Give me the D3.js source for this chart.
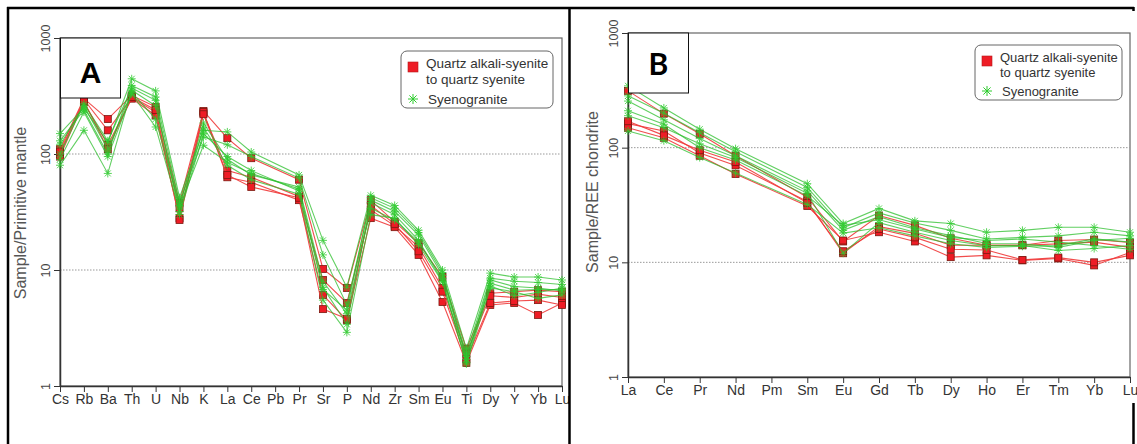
<!DOCTYPE html>
<html>
<head>
<meta charset="utf-8">
<script src="https://cdn.jsdelivr.net/npm/d3@7"></script>
<style>
  body { margin: 0; background: #fff; }
  svg { display: block; font-family: "Liberation Sans", Arial, sans-serif; }
</style>
</head>
<body>
<div id="chart"></div>
<script>
"use strict";

// ---- data: panel A (primitive mantle normalised spider diagram)
var spiderElements = ["Cs", "Rb", "Ba", "Th", "U", "Nb", "K", "La", "Ce", "Pb", "Pr", "Sr", "P", "Nd", "Zr", "Sm", "Eu", "Ti", "Dy", "Y", "Yb", "Lu"];
// null = not analysed (line runs across)
var spiderSyenite = [
  [110, 300, 200, 320, 255, 38, 235, 137, 92, null, 60, 10.2, 7.0, 40, 26, 17, 8.7, 2.1, 6.3, 6.5, 6.7, 6.5],
  [100, 295, 160, 305, 230, 34, 225, 72, 63, null, 43, 8.2, 5.2, 33, 24, 15.8, 7.0, 1.9, 6.0, 5.8, 6.2, 5.8],
  [95, 280, 120, 300, 215, 28, 230, 63, 57, null, 40, 6.1, 3.7, 28, 23.4, 13.5, 5.3, 1.58, 5.0, 5.2, 4.1, 5.2],
  [105, 285, 110, 310, 240, 27, 220, 66, 52, null, 42, 4.6, 3.8, 36, 25, 14.5, 6.5, 1.7, 5.2, 5.4, 5.5, 5.0]
];
var spiderGranite = [
  [150, 250, 125, 445, 350, 42, 160, 155, 104, null, 66, 18, 7.1, 44, 36, 22, 10, 2.1, 9.4, 8.7, 8.7, 8.2],
  [130, 240, 100, 390, 310, 38, 140, 120, 95, null, 62, 13.5, 5.0, 40, 32, 20, 9.0, 1.9, 8.5, 8.0, 7.8, 7.5],
  [80, 160, 68, 355, 260, 35, 119, 85, 68, null, 50, 7.1, 3.4, 38, 30, 18, 8.0, 1.6, 7.7, 6.7, 6.8, 6.8],
  [90, 230, 95, 330, 171, 32, 170, 80, 60, null, 45, 5.5, 2.9, 30, 28, 16.5, 7.9, 1.55, 7.0, 6.5, 5.7, 6.1],
  [120, 260, 110, 340, 200, 36, 185, 90, 66, null, 52, 8.0, 4.2, 34, 27, 17.5, 8.5, 1.8, 7.3, 6.0, 6.4, 7.0],
  [100, 270, 130, 370, 290, 30, 150, 95, 72, null, 48, 6.8, 4.5, 42, 34, 21, 9.5, 1.7, 8.2, 7.2, 7.0, 6.6]
];

// ---- data: panel B (chondrite normalised REE)
var reeElements = ["La", "Ce", "Pr", "Nd", "Pm", "Sm", "Eu", "Gd", "Tb", "Dy", "Ho", "Er", "Tm", "Yb", "Lu"];
var reeSyenite = [
  [313, 198, 132, 85, null, 37, 15.2, 25.6, 21, 16.2, 14.1, 14.1, 15.5, 15.8, 14.9],
  [162, 140, 90, 70, null, 34, 12, 20.5, 17.9, 14.1, 14.1, 14.1, 14.5, 15.0, 13.5],
  [149, 122, 85, 59, null, 31, 15.5, 18.3, 15.2, 11.1, 11.5, 10.4, 10.8, 9.4, 12.2],
  [170, 128, 95, 75, null, 33, 12.5, 19.5, 16.5, 13.0, 12.8, 10.5, 11.0, 10.0, 11.5]
];
var reeGranite = [
  [346, 222, 145, 98, null, 48.5, 21.8, 29.5, 23, 21.8, 18.3, 19, 20.2, 20.2, 18.3],
  [283, 200, 135, 92, null, 45, 20, 27, 22, 19, 16, 16.5, 17, 18.3, 17],
  [255, 175, 120, 85, null, 42, 19, 25, 20, 17.1, 14.6, 14.5, 13.5, 15.5, 16.2],
  [190, 149, 108, 82, null, 40, 12, 22.2, 18.3, 15.5, 14.0, 14.0, 12.7, 13.2, 14.0],
  [140, 115, 82, 60, null, 32, 18, 20, 17, 14.5, 13.5, 13.8, 14.0, 16.0, 15.0],
  [210, 160, 100, 78, null, 38, 21, 23.5, 19.5, 16.5, 15.5, 16.0, 15.0, 14.0, 13.0]
];

var yTicks = [1, 10, 100, 1000];
var gridTicks = [10, 100];
var legendLabels = [["Quartz alkali-syenite", "to quartz syenite"], ["Syenogranite"]];

var W = 1137, H = 444,
    red = "#ee1c25", redLine = "#f03a3a", redEdge = "#7a1a10",
    green = "#2ecc2e", greenLine = "#2cbf2c";

var svg = d3.select("#chart").append("svg")
    .attr("width", W)
    .attr("height", H);

svg.append("rect").attr("width", W).attr("height", H).attr("fill", "#fff");

function drawPanel(opt) {
  var x = d3.scalePoint().domain(opt.cats).range([opt.left, opt.right]),
      y = d3.scaleLog().domain([1, 1000]).range([opt.bottom, opt.top]);

  var g = svg.append("g");

  // frame (top + right lines are grey)
  g.append("rect")
    .attr("x", opt.left).attr("y", opt.top)
    .attr("width", opt.right - opt.left).attr("height", opt.bottom - opt.top)
    .attr("fill", "none").attr("stroke", "#666").attr("stroke-width", 1.2);

  // dotted grid
  g.selectAll(".grid").data(gridTicks).enter()
    .append("line")
    .attr("x1", opt.left).attr("x2", opt.right)
    .attr("y1", function(d) { return y(d); })
    .attr("y2", function(d) { return y(d); })
    .attr("stroke", "#999").attr("stroke-width", 1)
    .attr("stroke-dasharray", "1.5,1.5");

  // axes
  var ya = g.append("g")
    .attr("transform", "translate(" + opt.left + ",0)")
    .call(d3.axisLeft(y).tickValues(yTicks).tickFormat(d3.format("d")).tickSize(6).tickSizeOuter(0));
  ya.select(".domain").attr("stroke", "#333").attr("stroke-width", 1.5);
  ya.selectAll(".tick line").attr("stroke", "#333");
  ya.selectAll("text")
    .attr("fill", "#444").attr("font-size", 12.5)
    .attr("text-anchor", "middle")
    .attr("x", 0).attr("dy", 0).attr("y", 0)
    .attr("transform", "translate(-10,0) rotate(-90)");

  var xa = g.append("g")
    .attr("transform", "translate(0," + opt.bottom + ")")
    .call(d3.axisBottom(x).tickSize(6).tickSizeOuter(0));
  xa.select(".domain").attr("stroke", "#333").attr("stroke-width", 1.5);
  xa.selectAll(".tick line").attr("stroke", "#333");
  xa.selectAll("text").attr("fill", "#333").attr("font-size", 14).attr("y", 8);

  g.append("text")
    .attr("transform", "translate(" + opt.labelX + "," + opt.labelY + ") rotate(-90)")
    .attr("text-anchor", "middle")
    .attr("fill", "#555").attr("font-size", 16)
    .text(opt.yLabel);

  var line = d3.line()
    .x(function(d) { return x(d.k); })
    .y(function(d) { return y(d.v); });

  function pts(row) {
    return row.map(function(v, i) { return { k: opt.cats[i], v: v }; })
      .filter(function(d) { return d.v != null; });
  }

  // syenite series
  opt.syenite.forEach(function(row) {
    var p = pts(row);
    g.append("path").attr("d", line(p))
      .attr("fill", "none").attr("stroke", redLine).attr("stroke-width", 1.1).attr("opacity", 0.9);
    g.selectAll(null).data(p).enter().append("rect")
      .attr("x", function(d) { return x(d.k) - 3.5; })
      .attr("y", function(d) { return y(d.v) - 3.5; })
      .attr("width", 7).attr("height", 7)
      .attr("fill", red).attr("stroke", redEdge).attr("stroke-width", 0.8);
  });

  // syenogranite series
  opt.granite.forEach(function(row) {
    var p = pts(row);
    g.append("path").attr("d", line(p))
      .attr("fill", "none").attr("stroke", greenLine).attr("stroke-width", 1.1).attr("opacity", 0.75);
    g.selectAll(null).data(p).enter().append("path")
      .attr("transform", function(d) { return "translate(" + x(d.k) + "," + y(d.v) + ")"; })
      .attr("d", "M-4,0H4M0,-4V4M-3,-3L3,3M-3,3L3,-3")
      .attr("stroke", green).attr("stroke-width", 1).attr("opacity", 0.8);
  });

  // panel letter box
  g.append("rect")
    .attr("x", opt.left + 0.5).attr("y", opt.top)
    .attr("width", 60).attr("height", 60)
    .attr("fill", "#fff").attr("stroke", "#111").attr("stroke-width", 1);
  g.append("text")
    .attr("x", opt.left + 30.5).attr("y", opt.top + opt.letterBase)
    .attr("text-anchor", "middle").attr("font-weight", "bold").attr("font-size", 30)
    .attr("font-family", opt.letterFont)
    .attr("fill", "#000")
    .text(opt.letter);

  // legend
  var L = opt.legend;
  g.append("rect")
    .attr("x", L.x).attr("y", L.y).attr("width", L.w).attr("height", L.h)
    .attr("rx", 6).attr("fill", "#fff").attr("stroke", "#666").attr("stroke-width", 1);
  g.append("rect")
    .attr("x", L.x + 7).attr("y", L.y + 11).attr("width", 10).attr("height", 10)
    .attr("fill", red).attr("stroke", "#b51a1a").attr("stroke-width", 0.6);
  g.append("path")
    .attr("transform", "translate(" + (L.x + 12) + "," + (L.y + L.lh * 2 + 17) + ")")
    .attr("d", "M-5,0H5M0,-5V5M-3.6,-3.6L3.6,3.6M-3.6,3.6L3.6,-3.6")
    .attr("stroke", green).attr("stroke-width", 1);
  var lt = g.append("text").attr("fill", "#333").attr("font-size", L.fs);
  legendLabels[0].forEach(function(s, i) {
    lt.append("tspan").attr("x", L.x + 25).attr("y", L.y + 17 + i * L.lh).text(s);
  });
  g.append("text").attr("fill", "#333").attr("font-size", L.fs)
    .attr("x", L.x + 27).attr("y", L.y + L.lh * 2 + 22).text(legendLabels[1][0]);
}

drawPanel({
  cats: spiderElements, syenite: spiderSyenite, granite: spiderGranite,
  left: 60, right: 562, top: 38, bottom: 386, labelX: 26, labelY: 213,
  yLabel: "Sample/Primitive mantle", letter: "A", letterBase: 45,
  letterFont: "Liberation Sans",
  legend: { x: 401, y: 51, w: 152, h: 57, fs: 13.5, lh: 15.5 }
});

drawPanel({
  cats: reeElements, syenite: reeSyenite, granite: reeGranite,
  left: 628, right: 1130, top: 33, bottom: 377, labelX: 598, labelY: 192,
  yLabel: "Sample/REE chondrite", letter: "B", letterBase: 42,
  letterFont: "Lato",
  legend: { x: 975, y: 45, w: 147, h: 55, fs: 13, lh: 14.5 }
});

// outer table borders
var border = svg.append("g").attr("stroke", "#000").attr("stroke-width", 2.5);
border.append("line").attr("x1", 7).attr("x2", 1134).attr("y1", 8).attr("y2", 8);
border.append("line").attr("x1", 8).attr("x2", 8).attr("y1", 7).attr("y2", H);
border.append("line").attr("x1", 569.5).attr("x2", 569.5).attr("y1", 7).attr("y2", H);
border.append("line").attr("x1", 1133.5).attr("x2", 1133.5).attr("y1", 403).attr("y2", H);
border.append("line").attr("x1", 1133.5).attr("x2", 1133.5).attr("y1", 7).attr("y2", 11);
</script>
</body>
</html>
